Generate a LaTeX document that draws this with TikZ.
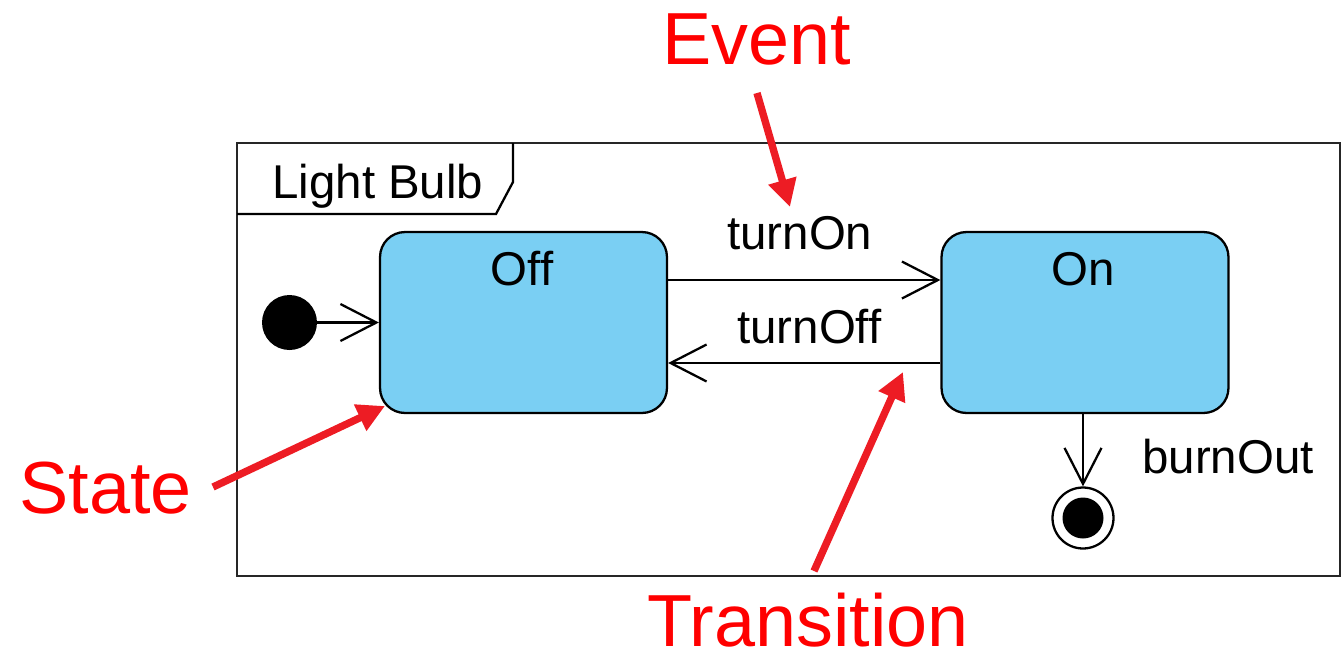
\documentclass[tikz,border=0pt]{standalone}
\usepackage{fontspec}
\setmainfont{Liberation Sans}
\usetikzlibrary{arrows.meta,positioning}

\definecolor{statefill}{RGB}{122,207,243}
\definecolor{notered}{RGB}{237,28,36}

\tikzset{
  umltext/.style={inner sep=0pt,font=\fontsize{27}{32}\selectfont},
  notetext/.style={inner sep=0pt,text=red,font=\fontsize{42}{48}\selectfont},
  state/.style={draw,line width=1.3pt,fill=statefill,rounded corners=0.5cm,
    minimum width=5.74cm,minimum height=3.62cm},
  trans/.style={line width=1.3pt,-{Straight Barb[length=0.72cm,width=0.74cm,line width=1.3pt]}},
  note/.style={notered,line width=4.2pt,-{Triangle[length=0.55cm,width=0.55cm]}},
}

\begin{document}
\begin{tikzpicture}[x=0.02cm,y=-0.02cm]
  \useasboundingbox (0,0) rectangle (1343,657);

  % frame with its name tab
  \draw[line width=1.3pt,black!85] (237,143) rectangle (1340,576);
  \draw[line width=1.3pt] (237,214) -- (496,214) -- (513,182) -- (513,143);
  \node[umltext,anchor=base west] (frame) at (272,198) {Light Bulb};

  % states
  \node[state] (off) at (523.5,322.5) {};
  \node[state] (on) at (1085,322.5) {};
  \node[umltext,anchor=base] (offname) at (522,285) {Off};
  \node[umltext,anchor=base] (onname) at (1083,285) {On};

  % pseudo states
  \node[circle,fill,inner sep=0pt,minimum size=1.1cm] (init) at (289.5,322.5) {};
  \node[circle,draw,line width=1.3pt,inner sep=0pt,minimum size=1.22cm] (final) at (1083,518) {};
  \node[circle,fill,inner sep=0pt,minimum size=0.82cm] (finaldot) at (final) {};

  % transitions
  \draw[trans] (init) -- (off);
  \draw[trans] ([yshift=0.85cm]off.east) -- ([yshift=0.85cm]on.west);
  \draw[trans] ([yshift=-0.81cm]on.west) -- ([yshift=-0.81cm]off.east);
  \draw[trans] (on.south -| final) -- (final);
  \node[umltext,anchor=base west] (turnon) at (727,249) {turnOn};
  \node[umltext,anchor=base west] (turnoff) at (737,343) {turnOff};
  \node[umltext,anchor=base west] (burnout) at (1142,473) {burnOut};

  % annotations
  \node[notetext,anchor=base west] (event) at (662,64) {Event};
  \node[notetext,anchor=base west] (statenote) at (19,513) {State};
  \node[notetext,anchor=base west] (transnote) at (647,646) {Transition};
  \coordinate (eventtail) at (757,93);
  \coordinate (eventtip) at (790,207);
  \coordinate (statetail) at (213,487);
  \coordinate (statetip) at (385,406);
  \coordinate (transtail) at (814,571);
  \coordinate (transtip) at (903,372);
  \draw[note] (eventtail) -- (eventtip);
  \draw[note] (statetail) -- (statetip);
  \draw[note] (transtail) -- (transtip);
\end{tikzpicture}
\end{document}
